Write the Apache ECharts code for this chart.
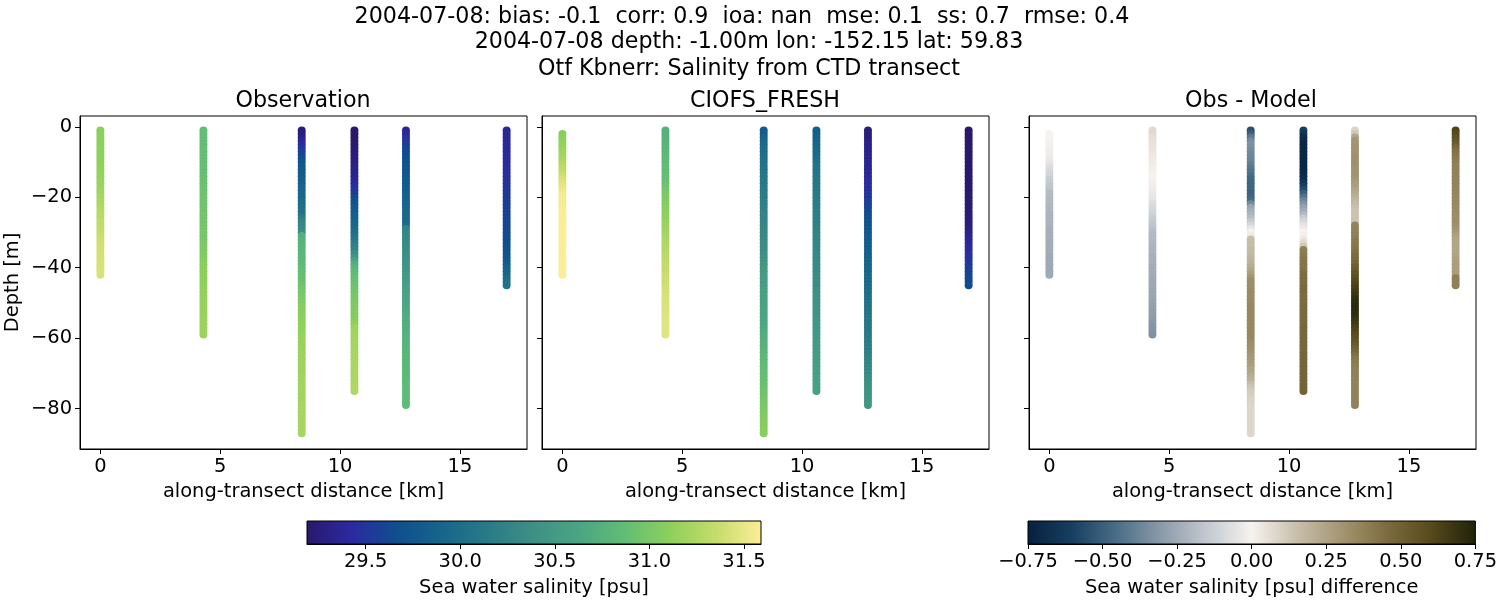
<!DOCTYPE html>
<html>
<head>
<meta charset="utf-8">
<style>
  html, body { margin: 0; background: #fff; }
  #chart { width: 1500px; height: 600px; }
</style>
<script src="https://cdn.jsdelivr.net/npm/echarts@6/dist/echarts.min.js"></script>
</head>
<body>
<div id="chart"></div>
<script>
// along-transect position of each CTD cast [km]
const stationKm = [0, 4.3, 8.4, 10.6, 12.75, 16.95];

// depth levels [m], every cast reads down from the first one
const depthLevels = [
  -1,-2,-3,-4,-5,-6,-7,-8,-9,-10,-11,-12,-13,-14,-15,-16,-17,-18,-19,-20,
  -21,-22,-23,-24,-25,-26,-27,-28,-29,-30,-31,-32,-33,-34,-35,-36,-37,-38,-39,-40,
  -41,-42,-43,-44,-45,-46,-47,-48,-49,-50,-51,-52,-53,-54,-55,-56,-57,-58,-59,-60,
  -61,-62,-63,-64,-65,-66,-67,-68,-69,-70,-71,-72,-73,-74,-75,-76,-77,-78,-79,-80,
  -81,-82,-83,-84,-85,-86,-87,
];

// observed salinity [psu]
const obs0 = [
  31.10,31.10,31.10,31.10,31.10,31.11,31.11,31.11,31.11,31.12,
  31.12,31.13,31.13,31.14,31.15,31.16,31.17,31.18,31.20,31.21,
  31.23,31.24,31.26,31.27,31.29,31.30,31.32,31.33,31.34,31.35,
  31.36,31.37,31.38,31.39,31.40,31.40,31.41,31.41,31.42,31.42,
  31.43,31.43];
const obs1 = [
  30.87,30.87,30.87,30.87,30.87,30.87,30.88,30.88,30.88,30.88,
  30.89,30.89,30.90,30.90,30.91,30.91,30.92,30.92,30.93,30.93,
  30.94,30.94,30.95,30.95,30.96,30.96,30.97,30.97,30.98,30.98,
  30.99,30.99,31.00,31.01,31.02,31.03,31.04,31.06,31.08,31.09,
  31.10,31.10,31.11,31.11,31.12,31.12,31.13,31.13,31.14,31.14,
  31.15,31.15,31.15,31.15,31.16,31.16,31.17,31.17,31.17];
const obs2 = [
  29.25,29.27,29.30,29.36,29.42,29.48,29.55,29.61,29.67,29.71,
  29.74,29.77,29.80,29.82,29.84,29.86,29.88,29.91,29.93,29.95,
  29.97,30.00,30.02,30.05,30.07,30.16,30.25,30.28,30.32,30.35,
  30.72,30.74,30.76,30.78,30.79,30.80,30.81,30.82,30.84,30.85,
  30.87,30.88,30.90,30.91,30.93,30.95,30.98,31.00,31.03,31.05,
  31.06,31.07,31.08,31.09,31.10,31.11,31.12,31.13,31.14,31.14,
  31.15,31.15,31.16,31.16,31.17,31.17,31.18,31.18,31.18,31.18,
  31.19,31.19,31.19,31.19,31.20,31.20,31.20,31.20,31.21,31.21,
  31.21,31.21,31.21,31.22,31.22,31.22,31.22];
const obs3 = [
  29.19,29.19,29.20,29.21,29.22,29.23,29.25,29.26,29.27,29.29,
  29.30,29.32,29.34,29.35,29.37,29.41,29.45,29.50,29.55,29.62,
  29.68,29.72,29.75,29.79,29.82,29.85,29.89,29.92,29.95,29.99,
  30.03,30.09,30.15,30.20,30.25,30.35,30.45,30.58,30.70,30.76,
  30.82,30.85,30.88,30.90,30.92,30.94,30.96,30.98,31.00,31.01,
  31.03,31.04,31.05,31.06,31.08,31.10,31.16,31.18,31.19,31.20,
  31.20,31.21,31.21,31.22,31.22,31.22,31.23,31.23,31.23,31.24,
  31.24,31.24,31.24,31.25,31.25];
const obs4 = [
  29.35,29.40,29.45,29.50,29.55,29.59,29.62,29.65,29.67,29.69,
  29.71,29.73,29.74,29.76,29.78,29.80,29.81,29.83,29.84,29.86,
  29.87,29.89,29.90,29.92,29.93,29.94,29.95,29.97,30.25,30.26,
  30.28,30.29,30.31,30.33,30.35,30.37,30.39,30.41,30.43,30.45,
  30.47,30.49,30.50,30.52,30.54,30.56,30.58,30.60,30.61,30.63,
  30.64,30.66,30.67,30.69,30.70,30.71,30.72,30.73,30.74,30.75,
  30.76,30.77,30.78,30.79,30.79,30.80,30.80,30.81,30.81,30.82,
  30.82,30.83,30.83,30.84,30.84,30.84,30.85,30.85,30.85];
const obs5 = [
  29.40,29.40,29.40,29.41,29.41,29.41,29.41,29.42,29.42,29.43,
  29.43,29.44,29.45,29.46,29.47,29.48,29.49,29.50,29.52,29.53,
  29.54,29.55,29.56,29.57,29.58,29.59,29.60,29.61,29.62,29.63,
  29.64,29.65,29.66,29.67,29.69,29.70,29.72,29.76,29.80,29.84,
  29.88,29.92,29.97,30.01,30.05];

// CIOFS_FRESH salinity [psu], first cast starts one level down
const mod0 = [
  31.08,31.10,31.11,31.13,31.15,31.18,31.20,31.22,31.25,31.28,
  31.31,31.34,31.38,31.42,31.45,31.48,31.51,31.54,31.55,31.56,
  31.56,31.57,31.57,31.57,31.57,31.58,31.58,31.58,31.58,31.58,
  31.58,31.58,31.58,31.58,31.58,31.58,31.58,31.58,31.58,31.58,
  31.58];
const mod1 = [
  30.75,30.75,30.76,30.77,30.78,30.79,30.80,30.81,30.83,30.84,
  30.85,30.86,30.87,30.88,30.89,30.91,30.94,30.97,31.00,31.02,
  31.04,31.06,31.08,31.09,31.11,31.12,31.14,31.16,31.18,31.20,
  31.22,31.23,31.25,31.26,31.27,31.28,31.30,31.31,31.33,31.34,
  31.35,31.36,31.37,31.38,31.39,31.40,31.41,31.42,31.43,31.43,
  31.44,31.44,31.45,31.45,31.46,31.46,31.47,31.47,31.47];
const mod2 = [
  29.78,29.82,29.87,29.91,29.95,29.97,29.98,30.00,30.02,30.03,
  30.05,30.06,30.08,30.10,30.12,30.13,30.14,30.15,30.16,30.17,
  30.18,30.19,30.21,30.23,30.25,30.26,30.27,30.28,30.29,30.30,
  30.31,30.32,30.34,30.35,30.37,30.39,30.41,30.43,30.46,30.48,
  30.50,30.51,30.52,30.53,30.54,30.55,30.56,30.57,30.58,30.59,
  30.60,30.61,30.62,30.62,30.63,30.64,30.66,30.68,30.70,30.72,
  30.74,30.76,30.78,30.79,30.81,30.82,30.84,30.85,30.86,30.87,
  30.88,30.89,30.90,30.91,30.93,30.94,30.96,30.98,31.00,31.01,
  31.02,31.03,31.04,31.05,31.06,31.07,31.08];
const mod3 = [
  29.82,29.84,29.86,29.88,29.90,29.92,29.94,29.96,29.98,30.01,
  30.05,30.06,30.07,30.08,30.09,30.10,30.11,30.12,30.13,30.14,
  30.15,30.16,30.17,30.18,30.19,30.20,30.21,30.22,30.23,30.24,
  30.25,30.26,30.27,30.28,30.29,30.30,30.31,30.31,30.32,30.32,
  30.33,30.34,30.35,30.36,30.37,30.38,30.39,30.40,30.41,30.41,
  30.42,30.43,30.44,30.44,30.45,30.46,30.47,30.47,30.48,30.49,
  30.50,30.50,30.51,30.51,30.52,30.53,30.54,30.54,30.55,30.55,
  30.56,30.56,30.57,30.57,30.58];
const mod4 = [
  29.27,29.28,29.29,29.30,29.31,29.32,29.33,29.34,29.35,29.36,
  29.37,29.38,29.39,29.40,29.42,29.43,29.45,29.47,29.50,29.52,
  29.55,29.57,29.60,29.63,29.66,29.68,29.70,29.72,29.74,29.76,
  29.78,29.80,29.82,29.83,29.84,29.85,29.87,29.88,29.90,29.91,
  29.92,29.93,29.94,29.95,29.97,29.98,30.00,30.01,30.02,30.03,
  30.05,30.06,30.07,30.08,30.10,30.11,30.12,30.13,30.14,30.15,
  30.16,30.17,30.18,30.20,30.22,30.24,30.26,30.28,30.30,30.32,
  30.34,30.36,30.38,30.39,30.41,30.42,30.44,30.45,30.47];
const mod5 = [
  29.19,29.19,29.19,29.19,29.19,29.19,29.19,29.19,29.20,29.20,
  29.20,29.20,29.20,29.20,29.20,29.21,29.21,29.21,29.21,29.21,
  29.22,29.22,29.23,29.23,29.24,29.25,29.26,29.27,29.29,29.31,
  29.33,29.35,29.38,29.40,29.42,29.44,29.46,29.49,29.52,29.54,
  29.56,29.58,29.60,29.63,29.65];

// observation minus model [psu]
const diff0 = [
  0.00,0.00,0.00,-0.01,-0.01,-0.02,-0.02,-0.03,-0.04,-0.06,
  -0.08,-0.10,-0.11,-0.13,-0.14,-0.16,-0.17,-0.19,-0.19,-0.20,
  -0.20,-0.21,-0.21,-0.22,-0.22,-0.22,-0.22,-0.23,-0.23,-0.23,
  -0.23,-0.24,-0.24,-0.24,-0.24,-0.25,-0.25,-0.25,-0.25,-0.25,
  -0.25];
const diff1 = [
  0.07,0.07,0.06,0.05,0.05,0.04,0.04,0.03,0.03,0.02,
  0.02,0.01,0.01,0.00,0.00,-0.01,-0.01,-0.02,-0.03,-0.04,
  -0.05,-0.07,-0.09,-0.10,-0.11,-0.13,-0.14,-0.16,-0.17,-0.19,
  -0.20,-0.20,-0.21,-0.21,-0.22,-0.22,-0.23,-0.23,-0.23,-0.24,
  -0.24,-0.24,-0.25,-0.25,-0.25,-0.25,-0.26,-0.26,-0.27,-0.27,
  -0.28,-0.28,-0.29,-0.29,-0.30,-0.31,-0.32,-0.32,-0.33];
const diff2 = [
  -0.55,-0.50,-0.42,-0.36,-0.33,-0.34,-0.35,-0.36,-0.37,-0.38,
  -0.40,-0.42,-0.43,-0.45,-0.47,-0.48,-0.48,-0.48,-0.49,-0.48,
  -0.46,-0.36,-0.27,-0.24,-0.22,-0.19,-0.15,-0.10,-0.05,0.00,
  0.02,0.15,0.16,0.16,0.17,0.17,0.18,0.19,0.20,0.22,
  0.24,0.27,0.30,0.33,0.33,0.33,0.34,0.34,0.34,0.34,
  0.35,0.35,0.35,0.35,0.35,0.35,0.35,0.35,0.35,0.35,
  0.34,0.33,0.32,0.31,0.30,0.29,0.28,0.27,0.25,0.24,
  0.22,0.20,0.17,0.14,0.12,0.11,0.10,0.09,0.09,0.08,
  0.08,0.08,0.08,0.08,0.08,0.08,0.08];
const diff3 = [
  -0.60,-0.65,-0.68,-0.70,-0.72,-0.72,-0.72,-0.72,-0.72,-0.72,
  -0.72,-0.72,-0.71,-0.70,-0.68,-0.64,-0.60,-0.56,-0.50,-0.44,
  -0.38,-0.33,-0.28,-0.25,-0.20,-0.14,-0.10,-0.06,-0.03,0.00,
  0.01,0.03,0.07,0.12,0.38,0.39,0.40,0.41,0.42,0.42,
  0.43,0.45,0.45,0.45,0.45,0.46,0.46,0.45,0.45,0.45,
  0.46,0.46,0.46,0.46,0.46,0.46,0.47,0.47,0.47,0.47,
  0.47,0.47,0.47,0.47,0.48,0.48,0.48,0.48,0.48,0.48,
  0.48,0.48,0.48,0.49,0.49];
const diff4 = [
  0.09,0.12,0.24,0.30,0.30,0.31,0.31,0.31,0.32,0.32,
  0.32,0.31,0.31,0.31,0.30,0.28,0.27,0.25,0.23,0.21,
  0.19,0.17,0.15,0.14,0.14,0.14,0.14,0.36,0.37,0.37,
  0.38,0.39,0.40,0.41,0.42,0.44,0.45,0.46,0.48,0.51,
  0.53,0.56,0.58,0.60,0.62,0.64,0.66,0.68,0.70,0.71,
  0.72,0.72,0.71,0.70,0.68,0.66,0.64,0.62,0.60,0.58,
  0.56,0.53,0.50,0.47,0.44,0.41,0.40,0.39,0.38,0.38,
  0.38,0.37,0.37,0.37,0.37,0.37,0.37,0.37,0.37];
const diff5 = [
  0.62,0.60,0.58,0.55,0.52,0.48,0.44,0.42,0.40,0.39,
  0.38,0.38,0.37,0.37,0.37,0.37,0.36,0.36,0.36,0.35,
  0.35,0.35,0.34,0.34,0.34,0.33,0.33,0.32,0.31,0.29,
  0.27,0.25,0.24,0.24,0.24,0.24,0.25,0.26,0.27,0.27,
  0.27,0.27,0.38,0.38,0.38];

const xTicks = [0, 5, 10, 15];
const depthTicks = [0, -20, -40, -60, -80];
const salinityTicks = [29.5, 30.0, 30.5, 31.0, 31.5];
const diffTicks = [-0.75, -0.5, -0.25, 0, 0.25, 0.5, 0.75];

// cmocean haline and diff, sampled at even steps
const halineColors = ["#29186b", "#2b2aa0", "#0f4f8e", "#17668b", "#2a7b87", "#3e9085", "#4ba583", "#62bd75", "#8ed05c", "#c6dc6a", "#fdee99"];
const diffColors = ["#06203e", "#183f60", "#4a6e88", "#8c9ba9", "#c3c9cf", "#f6f2ef", "#c8bfab", "#a49672", "#7d6c3f", "#574a1c", "#1f220a"];

const textColor = "#000";
const fontFamily = "DejaVu Sans";
const labelSize = 19.44;
const titleSize = 22.2;

// firstLevel is the index into depthLevels of a cast's top sample
function castPoints(km, values, firstLevel) {
  return values.map((v, i) => [km, depthLevels[firstLevel + i], v]);
}

function buildPoints(casts, topOffset) {
  return casts.flatMap((values, i) => castPoints(stationKm[i], values, i === 0 ? topOffset : 0));
}

function gradient(colors) {
  return new echarts.graphic.LinearGradient(0, 0, 1, 0,
    colors.map((color, i) => ({ offset: i / (colors.length - 1), color })));
}

const minus = (s) => String(s).replace("-", "\u2212");

const panels = [
  { left: 80, title: "Observation", topOffset: 0, casts: [obs0, obs1, obs2, obs3, obs4, obs5] },
  { left: 542, title: "CIOFS_FRESH", topOffset: 1, casts: [mod0, mod1, mod2, mod3, mod4, mod5] },
  { left: 1029, title: "Obs - Model", topOffset: 1, casts: [diff0, diff1, diff2, diff3, diff4, diff5] },
];

const axisBits = {
  axisLine: { onZero: false, lineStyle: { color: textColor, width: 1 } },
  axisTick: { length: 5, lineStyle: { color: textColor, width: 1 } },
  splitLine: { show: false },
};
const nameStyle = { fontSize: labelSize, color: textColor, fontFamily };
const labelStyle = { fontSize: labelSize, color: textColor, fontFamily, margin: 8 };

const grid = panels.map((p) => ({
  left: p.left, top: 116, width: 447, height: 333,
  show: true, borderColor: textColor, borderWidth: 1, backgroundColor: "#fff",
}));
grid.push({ left: 307, top: 521, width: 454, height: 23, show: true, borderColor: textColor, borderWidth: 1, backgroundColor: gradient(halineColors) });
grid.push({ left: 1028, top: 521, width: 448, height: 23, show: true, borderColor: textColor, borderWidth: 1, backgroundColor: gradient(diffColors) });

const xAxis = panels.map((p, i) => ({
  type: "value", gridIndex: i, min: -0.85, max: 17.8,
  name: "along-transect distance [km]", nameLocation: "middle", nameGap: 33,
  nameTextStyle: nameStyle,
  ...axisBits,
  axisTick: { ...axisBits.axisTick, customValues: xTicks },
  axisLabel: { ...labelStyle, customValues: xTicks },
}));
xAxis.push({
  type: "value", gridIndex: 3, min: 29.19, max: 31.59,
  name: "Sea water salinity [psu]", nameLocation: "middle", nameGap: 34,
  nameTextStyle: nameStyle,
  ...axisBits,
  axisTick: { ...axisBits.axisTick, customValues: salinityTicks },
  axisLabel: { ...labelStyle, customValues: salinityTicks, formatter: (v) => v.toFixed(1) },
});
xAxis.push({
  type: "value", gridIndex: 4, min: -0.75, max: 0.75, interval: 0.25,
  name: "Sea water salinity [psu] difference", nameLocation: "middle", nameGap: 34,
  nameTextStyle: nameStyle,
  ...axisBits,
  axisTick: { ...axisBits.axisTick, customValues: diffTicks },
  axisLabel: { ...labelStyle, customValues: diffTicks, formatter: (v) => minus(v.toFixed(2)) },
});

const yAxis = panels.map((p, i) => ({
  type: "value", gridIndex: i, min: -91.5, max: 3.1,
  name: i === 0 ? "Depth [m]" : "", nameLocation: "middle", nameGap: 58,
  nameTextStyle: nameStyle,
  ...axisBits,
  axisTick: { ...axisBits.axisTick, customValues: depthTicks },
  axisLabel: { ...labelStyle, show: i === 0, customValues: depthTicks, formatter: (v) => minus(v) },
}));
yAxis.push({ type: "value", gridIndex: 3, min: 0, max: 1, show: false });
yAxis.push({ type: "value", gridIndex: 4, min: 0, max: 1, show: false });

const series = panels.map((p, i) => ({
  type: "scatter", xAxisIndex: i, yAxisIndex: i,
  data: buildPoints(p.casts, p.topOffset),
  symbolSize: 8, silent: true, animation: false,
  itemStyle: { opacity: 1 },
}));

const titleText = (text, x, top) => ({
  text, left: x, top, textAlign: "center",
  textStyle: { fontSize: titleSize, fontWeight: "normal", color: textColor, fontFamily },
});
const titles = [
  titleText("2004-07-08: bias: -0.1  corr: 0.9  ioa: nan  mse: 0.1  ss: 0.7  rmse: 0.4", 737, 1),
  titleText("2004-07-08 depth: -1.00m lon: -152.15 lat: 59.83", 744, 26),
  titleText("Otf Kbnerr: Salinity from CTD transect", 744, 53),
  titleText("Observation", 298, 85),
  titleText("CIOFS_FRESH", 760, 85),
  titleText("Obs - Model", 1246, 85),
];

const chart = echarts.init(document.getElementById("chart"), null, { renderer: "canvas" });
chart.setOption({
  animation: false,
  backgroundColor: "#fff",
  title: titles,
  grid, xAxis, yAxis, series,
  visualMap: [
    { show: false, seriesIndex: [0, 1], dimension: 2, min: 29.19, max: 31.59, inRange: { color: halineColors } },
    { show: false, seriesIndex: 2, dimension: 2, min: -0.75, max: 0.75, inRange: { color: diffColors } },
  ],
});
</script>
</body>
</html>
